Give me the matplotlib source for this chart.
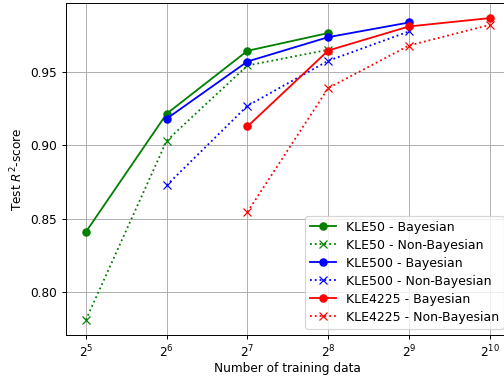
import numpy as np
import matplotlib
matplotlib.use("Agg")
import matplotlib.pyplot as plt

# training set sizes (log2 scale on the x axis)
n_train = [2**5, 2**6, 2**7, 2**8, 2**9, 2**10]

# test R^2 scores
kle50_bayes = [0.841, 0.9216, 0.9645, 0.9766]
kle50_nonbayes = [0.781, 0.9032, 0.9545, 0.9652]
kle500_bayes = [0.9182, 0.9572, 0.9738, 0.9838]
kle500_nonbayes = [0.8728, 0.927, 0.9577, 0.9777]
kle4225_bayes = [0.9129, 0.9647, 0.9811, 0.9868]
kle4225_nonbayes = [0.8546, 0.9391, 0.9681, 0.9822]

dpi = 87
fig = plt.figure(figsize=(504/dpi, 379/dpi), dpi=dpi)
ax = fig.add_axes([65.7/504, 44/379, (510-65.7)/504, (335-3)/379])

ax.plot(n_train[0:4], kle50_bayes, 'o-', color='green', label='KLE50 - Bayesian')
ax.plot(n_train[0:4], kle50_nonbayes, 'x:', color='green', label='KLE50 - Non-Bayesian')
ax.plot(n_train[1:5], kle500_bayes, 'o-', color='blue', label='KLE500 - Bayesian')
ax.plot(n_train[1:5], kle500_nonbayes, 'x:', color='blue', label='KLE500 - Non-Bayesian')
ax.plot(n_train[2:6], kle4225_bayes, 'o-', color='red', label='KLE4225 - Bayesian')
ax.plot(n_train[2:6], kle4225_nonbayes, 'x:', color='red', label='KLE4225 - Non-Bayesian')

ax.set_xscale('log', base=2)
ax.set_yticks([0.80, 0.85, 0.90, 0.95])
ax.grid(True)
ax.set_xlabel('Number of training data', labelpad=2)
ax.set_ylabel('Test $R^2$-score')
ax.legend(loc='lower right', fontsize=10.4, labelspacing=0.4)

fig.savefig('out.png', dpi=dpi)
